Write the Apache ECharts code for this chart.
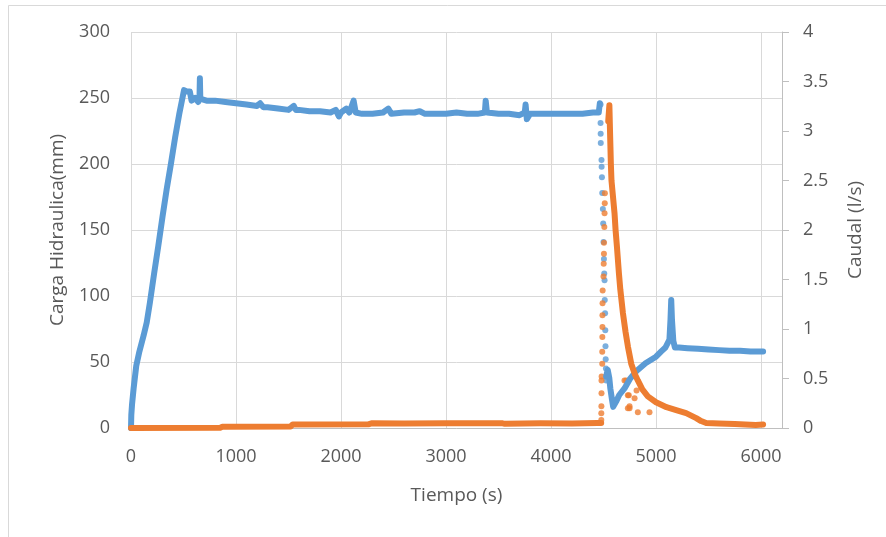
<!DOCTYPE html>
<html>
<head>
<meta charset="utf-8">
<script src="https://cdn.jsdelivr.net/npm/echarts@6/dist/echarts.min.js"></script>
<style>
  html, body { margin: 0; padding: 0; background: #ffffff; }
  #chart { width: 886px; height: 537px; }
</style>
</head>
<body>
<div id="chart"></div>
<script>
// Carga hidráulica (mm) — llenado y régimen estable, [tiempo s, mm]
const cargaEstable = [
  [0, 0], [3, 10], [10, 18], [25, 30], [50, 47], [80, 58], [120, 70], [150, 80],
  [180, 95], [220, 117], [260, 138], [300, 160], [340, 181], [380, 200], [420, 220],
  [460, 238], [490, 250], [505, 256], [530, 255], [560, 255], [577, 248], [610, 250],
  [640, 247], [652, 249], [656, 265], [660, 250], [680, 249], [720, 248], [800, 248],
  [900, 247], [1000, 246], [1100, 245], [1200, 244], [1230, 246], [1260, 243],
  [1300, 243], [1400, 242], [1500, 241], [1550, 244], [1570, 241], [1600, 241],
  [1700, 240], [1800, 240], [1900, 239], [1950, 241], [1980, 236], [2000, 239],
  [2050, 242], [2080, 239], [2120, 248], [2140, 239], [2200, 238], [2300, 238],
  [2400, 239], [2450, 242], [2480, 238], [2600, 239], [2700, 239], [2750, 240],
  [2800, 238], [2900, 238], [3000, 238], [3100, 239], [3200, 238], [3300, 238],
  [3370, 239], [3378, 248], [3390, 239], [3500, 238], [3600, 238], [3700, 237],
  [3750, 239], [3758, 245], [3770, 234], [3800, 238], [3900, 238], [4000, 238],
  [4100, 238], [4200, 238], [4300, 238], [4400, 239], [4455, 239], [4465, 246]
];

// Carga hidráulica (mm) — descenso brusco al abrir la compuerta
const cargaDescenso = [
  [4472, 245], [4472, 231], [4473, 223], [4474, 216], [4481, 203], [4482, 198],
  [4485, 190], [4488, 178], [4494, 166], [4497, 155], [4500, 141], [4504, 128],
  [4507, 117], [4510, 112], [4512, 97], [4515, 87], [4517, 74], [4519, 62],
  [4521, 52], [4523, 45], [4526, 36]
];

// Carga hidráulica (mm) — vaciado y nuevo equilibrio
const cargaFinal = [
  [4525, 39], [4540, 44], [4555, 38], [4565, 30], [4580, 22], [4592, 16],
  [4605, 17], [4620, 20], [4650, 25], [4700, 30], [4750, 37], [4812, 43],
  [4900, 49], [5000, 54], [5050, 58], [5090, 61], [5128, 67], [5138, 82],
  [5145, 97], [5152, 82], [5165, 66], [5180, 61], [5220, 61], [5300, 60.5],
  [5400, 60], [5500, 59.5], [5600, 59], [5700, 58.5], [5800, 58.5], [5900, 58],
  [6020, 58]
];

// Caudal (l/s) — antes de la apertura
const caudalBase = [
  [0, 0], [850, 0.003], [870, 0.012], [1520, 0.015], [1540, 0.035], [2260, 0.037],
  [2290, 0.047], [2600, 0.045], [3000, 0.047], [3540, 0.047], [3560, 0.042],
  [3900, 0.047], [4200, 0.045], [4440, 0.05], [4478, 0.05]
];

// Caudal (l/s) — subida instantánea
const caudalSubida = [
  [4479, 0.08], [4479, 0.15], [4480, 0.22], [4481, 0.35], [4481, 0.48], [4482, 0.52],
  [4488, 0.65], [4488, 0.77], [4489, 0.92], [4490, 1.02], [4490, 1.14], [4491, 1.26],
  [4492, 1.39], [4500, 1.53], [4502, 1.66], [4504, 1.76], [4505, 1.87], [4508, 2.03],
  [4510, 2.17], [4512, 2.27], [4513, 2.37]
];

// Caudal (l/s) — recesión
const caudalRecesion = [
  [4545, 3.1], [4556, 3.26], [4562, 3.0], [4566, 2.84], [4570, 2.67], [4576, 2.5],
  [4590, 2.34], [4605, 2.17], [4615, 2.0], [4628, 1.83], [4647, 1.56], [4660, 1.4],
  [4685, 1.16], [4710, 0.97], [4733, 0.82], [4764, 0.65], [4800, 0.54], [4827, 0.48],
  [4870, 0.39], [4922, 0.32], [5000, 0.26], [5100, 0.21], [5192, 0.18], [5287, 0.15],
  [5383, 0.1], [5430, 0.07], [5478, 0.05], [5600, 0.045], [5750, 0.04], [5850, 0.035],
  [5950, 0.03], [6020, 0.035]
];

// Caudal (l/s) — lecturas dispersas durante la recesión
const caudalDisperso = [
  [4700, 0.48], [4716, 0.48], [4732, 0.33], [4741, 0.33], [4748, 0.22], [4748, 0.2],
  [4732, 0.2], [4796, 0.3], [4815, 0.38], [4827, 0.16], [4938, 0.16]
];

// Marcas de los ejes
const ejeTiempo = { min: 0, max: 6200, paso: 1000 };
const ejeCarga = { min: 0, max: 300, paso: 50 };
const ejeCaudal = { min: 0, max: 4, paso: 0.5 };

const AZUL = '#5B9BD5';
const NARANJA = '#ED7D31';
const TEXTO = '#595959';
const REJILLA = '#D9D9D9';
const LINEA_EJE = '#BFBFBF';
const FUENTE = '"Open Sans", "Liberation Sans", sans-serif';

const chart = echarts.init(document.getElementById('chart'), null, { renderer: 'canvas' });

function traza(nombre, datos, color, eje) {
  return {
    name: nombre, type: 'line', yAxisIndex: eje, data: datos,
    symbol: 'none', smooth: false, animation: false,
    lineStyle: { color: color, width: 6, cap: 'round', join: 'round' }
  };
}
function puntos(nombre, datos, color, eje) {
  return {
    name: nombre, type: 'scatter', yAxisIndex: eje, data: datos,
    symbol: 'circle', symbolSize: 6, animation: false,
    itemStyle: { color: color }
  };
}

chart.setOption({
  backgroundColor: '#ffffff',
  textStyle: { fontFamily: FUENTE },
  graphic: [{
    type: 'rect', silent: true, z: -10,
    shape: { x: 8.5, y: 5.5, width: 900, height: 600 },
    style: { fill: 'none', stroke: REJILLA, lineWidth: 1 }
  }],
  grid: { left: 131, right: 104, top: 32, bottom: 109 },
  xAxis: {
    type: 'value', min: ejeTiempo.min, max: ejeTiempo.max, interval: ejeTiempo.paso,
    name: 'Tiempo (s)', nameLocation: 'middle', nameGap: 58,
    nameTextStyle: { color: TEXTO, fontSize: 19, fontFamily: FUENTE },
    axisLine: { show: true, lineStyle: { color: LINEA_EJE, width: 1 } },
    axisTick: { show: false },
    axisLabel: {
      color: TEXTO, fontSize: 18, margin: 20, showMaxLabel: false, fontFamily: FUENTE,
      formatter: (v) => String(v)
    },
    splitLine: { show: true, lineStyle: { color: REJILLA, width: 1 } }
  },
  yAxis: [{
    type: 'value', position: 'left', min: ejeCarga.min, max: ejeCarga.max, interval: ejeCarga.paso,
    name: 'Carga Hidraulica(mm)', nameLocation: 'middle', nameGap: 64,
    nameTextStyle: { color: TEXTO, fontSize: 19, fontFamily: FUENTE },
    axisLine: { show: false },
    axisTick: { show: false },
    axisLabel: { color: TEXTO, fontSize: 18, margin: 21, fontFamily: FUENTE },
    splitLine: { show: true, lineStyle: { color: REJILLA, width: 1 } }
  }, {
    type: 'value', position: 'right', min: ejeCaudal.min, max: ejeCaudal.max, interval: ejeCaudal.paso,
    name: 'Caudal (l/s)', nameLocation: 'middle', nameGap: 64,
    nameTextStyle: { color: TEXTO, fontSize: 19, fontFamily: FUENTE },
    axisLine: { show: true, lineStyle: { color: LINEA_EJE, width: 1 } },
    axisTick: { show: true, inside: false, length: 7, lineStyle: { color: LINEA_EJE } },
    axisLabel: { color: TEXTO, fontSize: 18, margin: 21, fontFamily: FUENTE },
    splitLine: { show: false }
  }],
  series: [
    traza('Carga Hidraulica', cargaEstable, AZUL, 0),
    puntos('Carga Hidraulica', cargaDescenso, AZUL, 0),
    traza('Carga Hidraulica', cargaFinal, AZUL, 0),
    traza('Caudal', caudalBase, NARANJA, 1),
    puntos('Caudal', caudalSubida, NARANJA, 1),
    traza('Caudal', caudalRecesion, NARANJA, 1),
    puntos('Caudal', caudalDisperso, NARANJA, 1)
  ]
});
</script>
</body>
</html>
